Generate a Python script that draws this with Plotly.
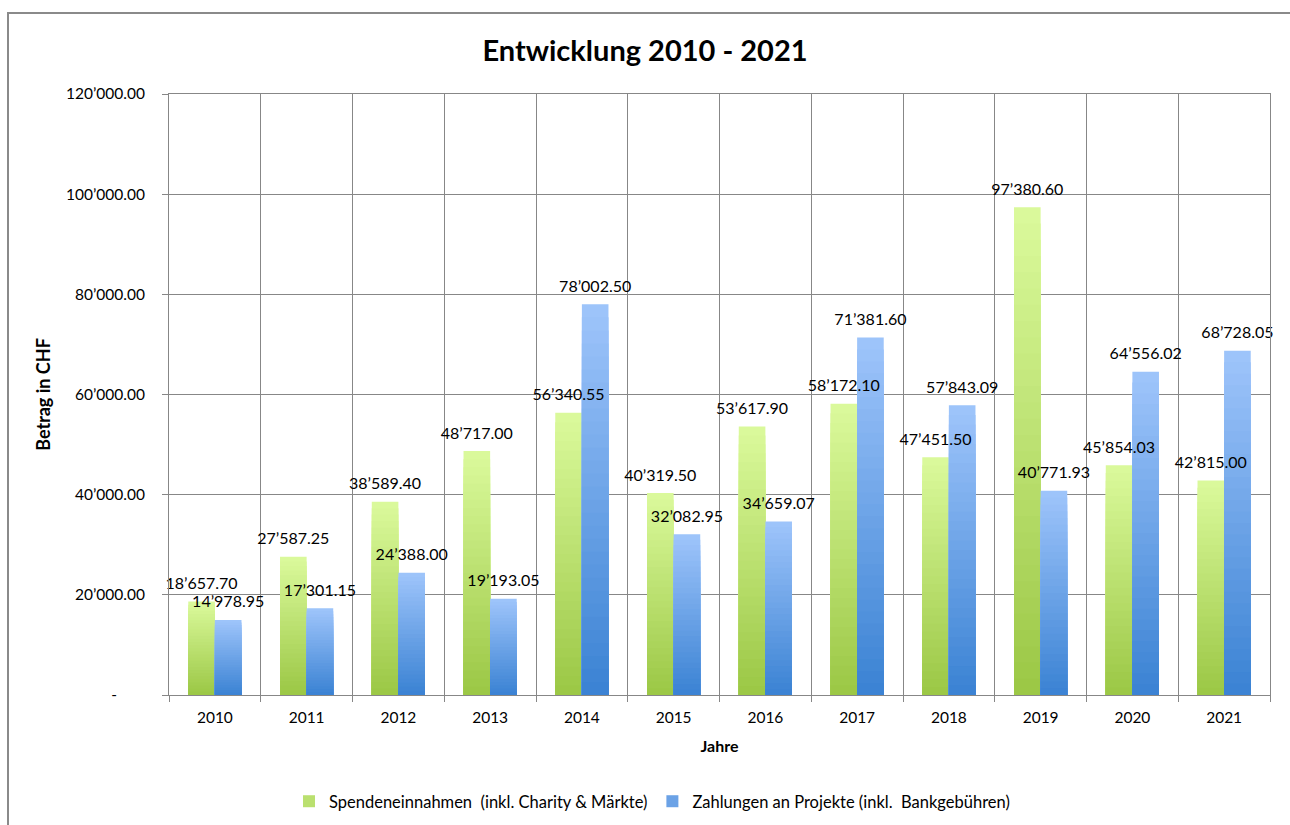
import plotly.graph_objects as go

years = ["2010", "2011", "2012", "2013", "2014", "2015", "2016", "2017", "2018", "2019", "2020", "2021"]
spenden = [18657.70, 27587.25, 38589.40, 48717.00, 56340.55, 40319.50, 53617.90, 58172.10, 47451.50, 97380.60, 45854.03, 42815.00]
zahlungen = [14978.95, 17301.15, 24388.00, 19193.05, 78002.50, 32082.95, 34659.07, 71381.60, 57843.09, 40771.93, 64556.02, 68728.05]
series_names = ["Spendeneinnahmen  (inkl. Charity & Märkte)", "Zahlungen an Projekte (inkl.  Bankgebühren)"]
y_tickvals = [0, 20000, 40000, 60000, 80000, 100000, 120000]
y_ticktext = ["-" + "\u00a0" * 7, "20’000.00", "40’000.00", "60’000.00", "80’000.00", "100’000.00", "120’000.00"]

FONT = "Lato"
W, H = 1290, 825
ML, MR, MT, MB = 169, 20, 94, 130
PW, PH = W - ML - MR, H - MT - MB
LABEL_LIFT = 1300  # extra gap between bar top and its label, in axis units


def fmt(v):
    return f"{v:,.2f}".replace(",", "’")


def lerp(c1, c2, t):
    return "rgb(%d,%d,%d)" % tuple(round(a + (b - a) * t) for a, b in zip(c1, c2))


grads = {
    "g": ((0x9B, 0xC7, 0x45), (0xDB, 0xFA, 0x9C)),
    "b": ((0x3A, 0x82, 0xD3), (0x9F, 0xC5, 0xFB)),
}

fig = go.Figure()
N = 30
for key, vals, name in (("g", spenden, series_names[0]), ("b", zahlungen, series_names[1])):
    bottom, top = grads[key]
    for k in range(N):
        frac = (N - k - 0.5) / N
        scale = (N - k) / N
        fig.add_trace(go.Bar(
            x=years, y=[v * scale for v in vals],
            offsetgroup=key, name=name, legendgroup=key,
            showlegend=(k == N // 2),
            marker=dict(color=lerp(bottom, top, frac), line=dict(width=0)),
            hoverinfo="skip",
        ))

# label traces on top
for key, vals in (("g", spenden), ("b", zahlungen)):
    fig.add_trace(go.Bar(
        x=years, y=vals, base=[LABEL_LIFT] * len(vals), offsetgroup=key, showlegend=False,
        marker=dict(color="rgba(0,0,0,0)", line=dict(width=0)),
        text=[fmt(v) for v in vals], textposition="outside",
        textfont=dict(family=FONT, size=16, color="black"),
        constraintext="none", cliponaxis=False, hoverinfo="skip",
    ))

fig.update_layout(
    width=W, height=H,
    margin=dict(l=ML, r=MR, t=MT, b=MB, autoexpand=False),
    paper_bgcolor="white", plot_bgcolor="white",
    barmode="group", bargap=0.42, bargroupgap=0,
    font=dict(family=FONT, size=15, color="black"),
    title=dict(text="<b>Entwicklung 2010 - 2021</b>", x=0.5, xanchor="center",
               xref="container", y=1 - 51 / H, yanchor="middle", yref="container",
               font=dict(family=FONT, size=29, color="black")),
    showlegend=True,
    legend=dict(orientation="h", x=(652 - ML) / PW, xanchor="center",
                y=(H - MB - 784) / PH, yanchor="top",
                font=dict(family=FONT, size=16.5, color="black"),
                itemwidth=30, traceorder="normal"),
)

fig.update_xaxes(
    type="category", tickson="boundaries", automargin=False,
    showgrid=True, gridcolor="#878787", gridwidth=1,
    showline=True, linecolor="#878787", linewidth=1, mirror=True,
    ticks="outside", ticklen=6, tickcolor="#878787",
    ticklabelstandoff=8,
    tickfont=dict(family=FONT, size=15.5, color="black"),
    title=dict(text="<b>Jahre</b>", font=dict(family=FONT, size=16, color="black"), standoff=16),
)
fig.update_yaxes(
    range=[0, 120000], tickvals=y_tickvals, ticktext=y_ticktext, automargin=False,
    showgrid=True, gridcolor="#878787", gridwidth=1, zeroline=False,
    showline=True, linecolor="#878787", linewidth=1, mirror=True,
    ticks="outside", ticklen=6, tickcolor="#878787",
    ticklabelstandoff=14,
    tickfont=dict(family=FONT, size=15.5, color="black"),
    title=dict(text="<b>Betrag in CHF</b>", font=dict(family=FONT, size=18, color="black"), standoff=10),
)

# outer chart frame
fig.add_shape(type="rect", xref="paper", yref="paper",
              x0=(8 - ML) / PW, x1=(W + 20 - ML) / PW,
              y0=(H - MB - (H + 20)) / PH, y1=(H - MB - 13) / PH,
              line=dict(color="#8a8a8a", width=2), fillcolor="rgba(0,0,0,0)", layer="below")

fig.write_html("out.html")
